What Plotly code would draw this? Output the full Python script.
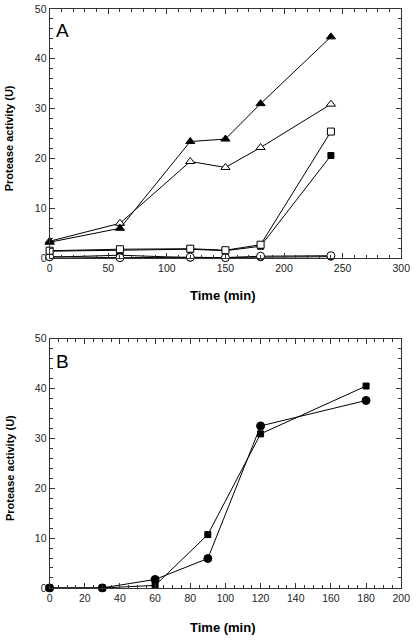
import plotly.graph_objects as go

# Panel A data
time_a = [0, 60, 120, 150, 180, 240]
tri_filled = [3.2, 6.0, 23.4, 23.9, 31.0, 44.4]
tri_open = [3.4, 7.0, 19.4, 18.2, 22.2, 30.9]
sq_filled = [1.4, 1.6, 1.8, 1.5, 2.4, 20.6]
sq_open = [1.5, 1.8, 1.9, 1.6, 2.7, 25.4]
circ_filled = [0.2, 0.6, 0.1, 0.1, 0.2, 0.3]
circ_open = [0.3, 0.1, 0.2, 0.1, 0.4, 0.5]

# Panel B data
time_b = [0, 30, 60, 90, 120, 180]
b_square = [0.0, 0.0, 0.5, 10.7, 30.9, 40.5]
b_circle = [0.0, 0.0, 1.7, 5.9, 32.5, 37.6]

fig = go.Figure()

def add(x, y, symbol, filled, xa, ya, size=7):
    fig.add_trace(go.Scatter(
        x=x, y=y, mode="lines+markers", xaxis=xa, yaxis=ya, cliponaxis=False,
        line=dict(color="black", width=1),
        marker=dict(symbol=symbol, size=size, color="black" if filled else "white",
                    line=dict(color="black", width=1)),
        showlegend=False, hoverinfo="skip"))

add(time_a, circ_filled, "circle", True, "x", "y", 7)
add(time_a, circ_open, "circle", False, "x", "y", 8)
add(time_a, sq_filled, "square", True, "x", "y", 6)
add(time_a, sq_open, "square", False, "x", "y", 7)
add(time_a, tri_open, "triangle-up", False, "x", "y", 8)
add(time_a, tri_filled, "triangle-up", True, "x", "y", 8)

add(time_b, b_circle, "circle", True, "x2", "y2", 8)
add(time_b, b_square, "square", True, "x2", "y2", 6)

W, H = 418, 642
x0, x1 = 48 / W, 410 / W
axcommon = dict(showgrid=False, zeroline=False, showline=True, linecolor="#333",
                linewidth=1, mirror="ticks", ticks="inside", ticklen=5,
                tickcolor="#333", ticklabeloverflow="allow",
                tickfont=dict(family="Liberation Sans, Arial", size=10.5, color="#222"))

fig.update_layout(
    width=W, height=H, margin=dict(l=0, r=0, t=0, b=0),
    plot_bgcolor="white", paper_bgcolor="white",
    xaxis=dict(domain=[x0, x1], range=[0, 300], anchor="y", dtick=50,
               minor=dict(ticks="inside", dtick=10, ticklen=3, tickcolor="#333"), **axcommon),
    yaxis=dict(domain=[1 - 257 / H, 1 - 3 / H], range=[0, 50], anchor="x", dtick=10,
               minor=dict(ticks="inside", dtick=2, ticklen=3, tickcolor="#333"), **axcommon),
    xaxis2=dict(domain=[x0, x1], range=[0, 200], anchor="y2", dtick=20,
                minor=dict(ticks="inside", dtick=5, ticklen=3, tickcolor="#333"), **axcommon),
    yaxis2=dict(domain=[1 - 593 / H, 1 - 339 / H], range=[0, 50], anchor="x2", dtick=10,
                minor=dict(ticks="inside", dtick=2, ticklen=3, tickcolor="#333"), **axcommon),
)

font_x = dict(family="Liberation Sans, Arial", size=13, color="black")
font_y = dict(family="Liberation Sans, Arial", size=11, color="black")
annots = [
    dict(text="<b>Time (min)</b>", x=227 / W, y=1 - 295 / H, font=font_x),
    dict(text="<b>Time (min)</b>", x=227 / W, y=1 - 633 / H, font=font_x),
    dict(text="<b>Protease activity (U)</b>", x=7 / W, y=1 - 135 / H, textangle=-90, font=font_y),
    dict(text="<b>Protease activity (U)</b>", x=7 / W, y=1 - 471 / H, textangle=-90, font=font_y),
]
for a in annots:
    fig.add_annotation(xref="paper", yref="paper", showarrow=False,
                       xanchor="center", yanchor="middle", **a)

font_lab = dict(family="Liberation Sans, Arial", size=19, color="black")
fig.add_annotation(xref="paper", yref="paper", x=61 / W, y=1 - 25 / H, text="A",
                   showarrow=False, xanchor="center", yanchor="middle", font=font_lab)
fig.add_annotation(xref="paper", yref="paper", x=61 / W, y=1 - 362 / H, text="B",
                   showarrow=False, xanchor="center", yanchor="middle", font=font_lab)

fig.write_html("out.html", config={"displayModeBar": False, "staticPlot": True},
               post_script="document.body.style.margin='0';document.body.style.overflow='hidden';")
